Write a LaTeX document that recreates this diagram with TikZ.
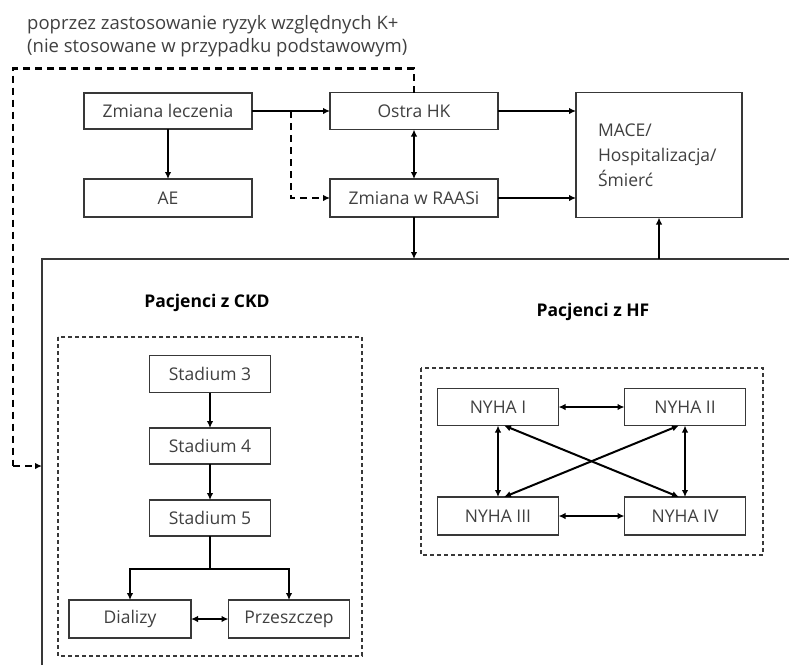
\documentclass[tikz,border=0pt]{standalone}
\usepackage{fontspec}
\setmainfont{Open Sans}
\usetikzlibrary{arrows.meta}
\definecolor{txt}{HTML}{404040}
\definecolor{ln}{HTML}{383838}
\tikzset{
  box/.style={draw=ln, line width=1.3pt, fill=white, text=txt, inner sep=0pt, outer sep=0pt, font=\fontsize{17.5}{21}\selectfont},
  arr/.style={draw=black, line width=2pt, -{Latex[length=7pt,width=6.5pt]}},
  darr/.style={draw=black, line width=2pt, {Latex[length=7pt,width=6.5pt]}-{Latex[length=7pt,width=6.5pt]}},
  dsh/.style={draw=black, line width=2.2pt, dash pattern=on 7pt off 5pt},
  grp/.style={draw=ln, line width=1.3pt, dash pattern=on 4pt off 3pt},
  ttl/.style={font=\bfseries\fontsize{17.5}{21}\selectfont, text=black},
  note/.style={font=\fontsize{18.5}{22}\selectfont, text=txt, anchor=west, inner sep=0pt}
}
\begin{document}
\begin{tikzpicture}[x=1pt,y=-1pt]
\useasboundingbox (0,0) rectangle (789,665);
% top note
\node[note] (n1) at (27,25) {poprzez zastosowanie ryzyk względnych K+};
\node[note] (n2) at (27,48) {(nie stosowane w przypadku podstawowym)};
% top boxes
\node[box, minimum width=168pt, minimum height=36pt] (zl) at (168,111) {Zmiana leczenia};
\node[box, minimum width=168pt, minimum height=38pt] (ae) at (168,198) {AE};
\node[box, minimum width=168pt, minimum height=37pt] (hk) at (414,111) {Ostra HK};
\node[box, minimum width=168pt, minimum height=38pt] (ra) at (414,198) {Zmiana w RAASi};
\node[box, minimum width=166pt, minimum height=125pt, text width=122pt, align=left,
      font=\fontsize{17.5}{25}\selectfont] (mace) at (659,155) {MACE/\\Hospitalizacja/\\Śmierć};
% big frame
\coordinate (bl) at (42,665);
\coordinate (tl) at (42,259);
\coordinate (tr) at (789,259);
\draw[draw=ln, line width=1.4pt] (bl) -- (tl) -- (tr);
% top connectors
\draw[arr] (zl) -- (ae);
\draw[arr] (zl.east) -- (hk.west);
\coordinate (br) at (291,111);
\draw[dsh, -{Latex[length=7pt,width=6.5pt]}] (br) |- (ra.west);
\draw[darr] (hk) -- (ra);
\draw[arr] (hk.east) -- (hk.east -| mace.west);
\draw[arr] (ra.east) -- (ra.east -| mace.west);
\draw[arr] (ra.south) -- (ra.south |- tl);
\coordinate (mup) at (659,259);
\draw[arr] (mup) -- (mace.south);
% dashed feedback
\coordinate (din) at (42,466);
\draw[dsh] (hk.north) -- ++(0,-24) -| (13,466);
\draw[dsh, -{Latex[length=7pt,width=6.5pt]}] (13,466) -- (din);
% CKD group
\node[ttl] (tckd) at (207,303) {Pacjenci z CKD};
\draw[grp] (58,337) rectangle (362,656);
\node[box, minimum width=121pt, minimum height=37pt] (s3) at (210,374) {Stadium 3};
\node[box, minimum width=121pt, minimum height=36pt] (s4) at (210,446) {Stadium 4};
\node[box, minimum width=121pt, minimum height=36pt] (s5) at (210,518) {Stadium 5};
\node[box, minimum width=122pt, minimum height=38pt] (dia) at (130,619) {Dializy};
\node[box, minimum width=121pt, minimum height=38pt] (prz) at (289,619) {Przeszczep};
\draw[arr] (s3) -- (s4);
\draw[arr] (s4) -- (s5);
\coordinate (sj) at (210,569);
\draw[line width=2pt] (s5.south) -- (sj);
\draw[arr] (sj) -| (dia.north);
\draw[arr] (sj) -| (prz.north);
\draw[darr] (dia) -- (prz);
% HF group
\node[ttl] (thf) at (593,312) {Pacjenci z HF};
\draw[grp] (421,368) rectangle (763,555);
\node[box, minimum width=121pt, minimum height=37pt] (n1h) at (498,407) {NYHA I};
\node[box, minimum width=121pt, minimum height=37pt] (n2h) at (685,407) {NYHA II};
\node[box, minimum width=121pt, minimum height=38pt] (n3h) at (498,516) {NYHA III};
\node[box, minimum width=121pt, minimum height=38pt] (n4h) at (685,516) {NYHA IV};
\draw[darr] (n1h) -- (n2h);
\draw[darr] (n3h) -- (n4h);
\draw[darr] (n1h) -- (n3h);
\draw[darr] (n2h) -- (n4h);
\draw[darr] ([xshift=6pt]n1h.south) -- ([xshift=-6pt]n4h.north);
\draw[darr] ([xshift=-6pt]n2h.south) -- ([xshift=6pt]n3h.north);
\end{tikzpicture}
\end{document}
